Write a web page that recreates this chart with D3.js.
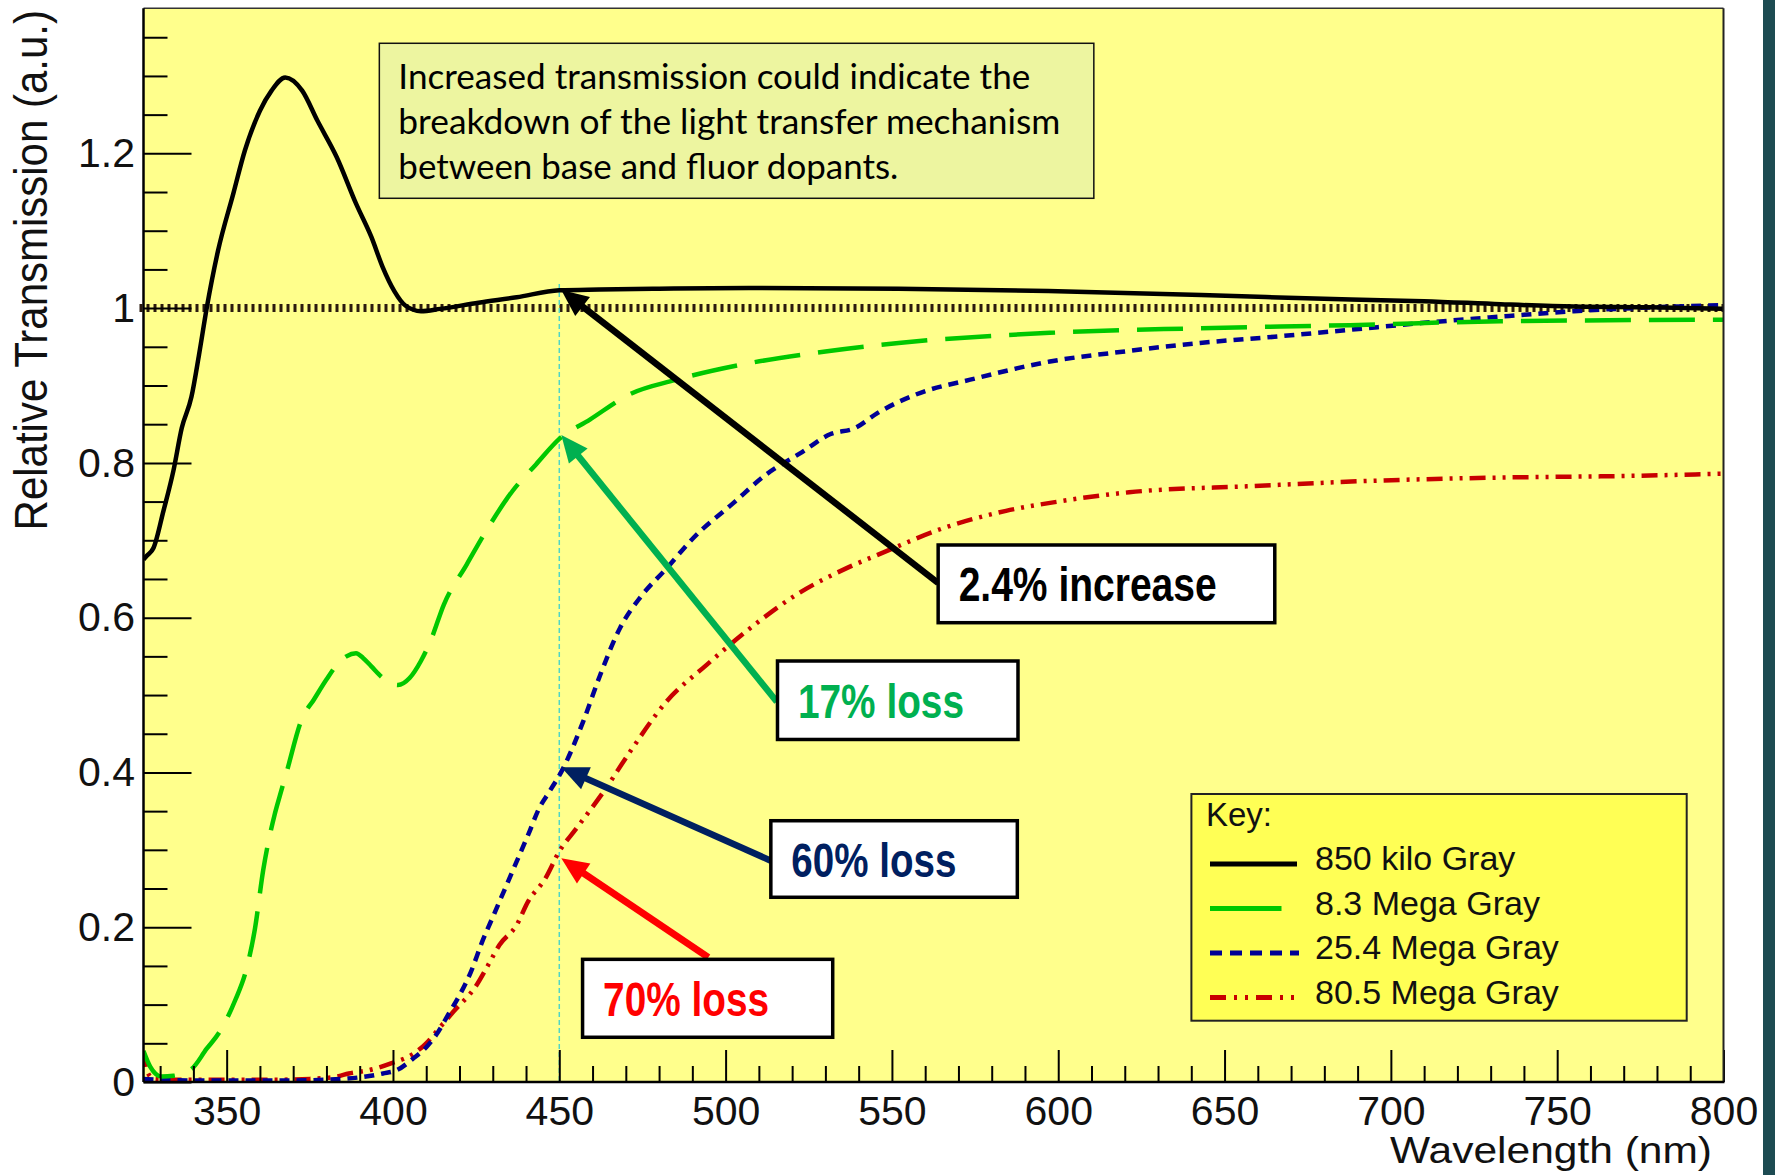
<!DOCTYPE html>
<html><head><meta charset="utf-8">
<script src="https://cdn.jsdelivr.net/npm/d3@7"></script>
<style>html,body{margin:0;padding:0;background:#fff;} svg{display:block}</style>
</head><body>
<svg id="chart" width="1775" height="1175"></svg>
<script>
// ---------------- DATA ----------------
const xTicksMajor = [350, 400, 450, 500, 550, 600, 650, 700, 750, 800];
const xTickLabels = ["350", "400", "450", "500", "550", "600", "650", "700", "750", "800"];
const yTicksMajor = [0, 0.2, 0.4, 0.6, 0.8, 1, 1.2];
const yTickLabels = ["0", "0.2", "0.4", "0.6", "0.8", "1", "1.2"];
const seriesNames = ["850 kilo Gray", "8.3 Mega Gray", "25.4 Mega Gray", "80.5 Mega Gray"];

const wl850k = [325, 326, 328, 331, 334, 336.5, 339.4, 341.7, 344, 347.4, 352, 355.5, 360, 363.5, 367.6, 372.7, 377.3, 383.1, 388.9, 393.5, 396.9, 400.4, 403.8, 408.4, 414.2, 425.7, 437.2, 450, 462, 480, 507, 552, 597, 643, 688, 710, 733, 755, 778, 800];
const tr850k = [0.675, 0.68, 0.69, 0.738, 0.79, 0.845, 0.885, 0.94, 1.0, 1.074, 1.148, 1.204, 1.255, 1.281, 1.298, 1.281, 1.242, 1.195, 1.135, 1.092, 1.053, 1.022, 1.003, 0.996, 0.999, 1.007, 1.014, 1.023, 1.024, 1.025, 1.026, 1.025, 1.022, 1.017, 1.011, 1.009, 1.005, 1.002, 1.001, 0.999];

const wl8M = [325, 327, 330.5, 334, 339.5, 344, 347.6, 352.5, 356, 358.5, 361, 364.4, 366, 368, 372.7, 376.2, 380, 383.1, 386, 388.9, 391, 393.5, 397, 401.5, 405, 408.4, 411.3, 415.3, 422.2, 428, 436, 443, 450, 459.2, 471.3, 484.8, 507.3, 530, 552, 597.5, 642.6, 687.7, 732.8, 800];
const tr8M = [0.04, 0.02, 0.007, 0.008, 0.017, 0.043, 0.063, 0.105, 0.147, 0.198, 0.274, 0.345, 0.37, 0.40, 0.470, 0.494, 0.52, 0.539, 0.55, 0.554, 0.548, 0.537, 0.522, 0.513, 0.522, 0.544, 0.570, 0.617, 0.669, 0.712, 0.764, 0.798, 0.831, 0.856, 0.889, 0.907, 0.929, 0.944, 0.955, 0.968, 0.974, 0.978, 0.983, 0.985];

const wl25M = [325, 330, 340, 350, 360, 370, 380, 390, 397, 401, 406, 410, 413, 417, 420, 423.4, 426.8, 430.3, 433.7, 437.2, 440.6, 444.1, 447, 451, 457.2, 462.3, 468.3, 474.3, 482.3, 490.3, 502.3, 511.9, 523, 531.4, 538.9, 545.5, 557, 575, 597.5, 620, 642.6, 665, 687.7, 710, 732.8, 755, 800];
const tr25M = [0.004, 0.003, 0.002, 0.002, 0.002, 0.002, 0.003, 0.006, 0.011, 0.015, 0.030, 0.045, 0.061, 0.09, 0.112, 0.142, 0.181, 0.216, 0.250, 0.285, 0.319, 0.355, 0.375, 0.404, 0.466, 0.526, 0.587, 0.626, 0.664, 0.703, 0.748, 0.784, 0.814, 0.837, 0.845, 0.864, 0.888, 0.909, 0.931, 0.944, 0.955, 0.963, 0.972, 0.981, 0.989, 0.996, 1.004];

const wl80M = [325, 326, 328, 335, 345, 355, 365, 375, 383, 386.7, 392.5, 399.4, 406.3, 410, 413, 418.2, 425.1, 428.6, 432, 437.2, 440.6, 445.8, 450, 455.2, 463.3, 471.3, 482.3, 494.3, 506.4, 521.4, 536.4, 547.3, 565, 584.3, 600, 621.3, 658.3, 695.3, 732.3, 769.4, 800];
const tr80M = [0.04, 0.015, 0.004, 0.003, 0.003, 0.003, 0.003, 0.004, 0.007, 0.011, 0.015, 0.024, 0.037, 0.05, 0.065, 0.091, 0.125, 0.151, 0.177, 0.203, 0.233, 0.263, 0.298, 0.328, 0.375, 0.427, 0.492, 0.539, 0.583, 0.630, 0.664, 0.684, 0.715, 0.738, 0.75, 0.762, 0.770, 0.777, 0.781, 0.783, 0.786];

const noteLines = ["Increased transmission could indicate the", "breakdown of the light transfer mechanism", "between base and fluor dopants."];
const calloutTexts = ["2.4% increase", "17% loss", "60% loss", "70% loss"];
const calloutWl = [450, 450, 450, 450];
const calloutValues = [1.0234, 0.836, 0.4066, 0.289];

// ---------------- LAYOUT / STYLE ----------------
const W = 1775, H = 1175;
const svg = d3.select("#chart");
const x = d3.scaleLinear().domain([325, 800]).range([143.5, 1723.5]);
const y = d3.scaleLinear().domain([0, 1.3874]).range([1082, 8.3]);
const pL = x(325), pR = x(800), pT = y(1.3874), pB = y(0);
const FONT = "'Liberation Sans', Arial, sans-serif";

svg.append("rect").attr("width", W).attr("height", H).attr("fill", "#fff");
svg.append("rect").attr("x", 1763).attr("y", 0).attr("width", 12).attr("height", H).attr("fill", "#1d4b52");
svg.append("rect").attr("x", pL).attr("y", pT).attr("width", pR - pL).attr("height", pB - pT).attr("fill", "#ffff8c");

svg.append("defs").append("clipPath").attr("id", "clip")
  .append("rect").attr("x", pL).attr("y", pT).attr("width", pR - pL).attr("height", pB - pT);

// reference line at 1
svg.append("line").attr("x1", pL - 4).attr("x2", pR).attr("y1", y(1)).attr("y2", y(1))
  .attr("stroke", "#2b1a0e").attr("stroke-width", 8).attr("stroke-dasharray", "3,4");

// vertical marker at 450
svg.append("line").attr("x1", x(450)).attr("x2", x(450)).attr("y1", y(1.031)).attr("y2", pB)
  .attr("stroke", "#4fd6c8").attr("stroke-width", 1.5).attr("stroke-dasharray", "5,3");

const series = [
  {wl: wl850k, tr: tr850k, color: "#000000", width: 4.5, dash: null},
  {wl: wl8M, tr: tr8M, color: "#00c800", width: 4.5, dash: "46,18"},
  {wl: wl25M, tr: tr25M, color: "#000096", width: 4.5, dash: "10,7"},
  {wl: wl80M, tr: tr80M, color: "#c80000", width: 4.5, dash: "16,7,3,7,3,7"}
];
const line = d3.line().x(d => x(d[0])).y(d => y(d[1])).curve(d3.curveMonotoneX);
const gCurves = svg.append("g").attr("clip-path", "url(#clip)");
[3, 2, 1, 0].forEach(i => {
  const s = series[i];
  gCurves.append("path").datum(s.wl.map((w, k) => [w, s.tr[k]]))
    .attr("d", line).attr("fill", "none").attr("stroke", s.color)
    .attr("stroke-width", s.width).attr("stroke-linejoin", "round")
    .attr("stroke-dasharray", s.dash);
});

// axes
const xMinor = d3.range(33, 81).map(v => v * 10).filter(v => v % 50 !== 0);
const yMinor = d3.range(1, 28).filter(i => i % 4 !== 0).map(i => i * 0.05);
function styleAxis(g) {
  g.select(".domain").remove();
  g.selectAll(".tick line").attr("stroke", "#000").attr("stroke-width", 2);
  g.selectAll("text").attr("font-family", FONT).attr("font-size", 41).attr("fill", "#111");
}
svg.append("g").attr("transform", `translate(0,${pB})`)
  .call(d3.axisBottom(x).tickValues(xMinor).tickSize(-16).tickFormat("")).call(styleAxis);
svg.append("g").attr("transform", `translate(0,${pB})`)
  .call(d3.axisBottom(x).tickValues(xTicksMajor).tickSize(-32).tickPadding(14).tickFormat((d, i) => xTickLabels[i])).call(styleAxis);
svg.append("g").attr("transform", `translate(${pL},0)`)
  .call(d3.axisLeft(y).tickValues(yMinor).tickSize(-24).tickFormat("")).call(styleAxis);
svg.append("g").attr("transform", `translate(${pL},0)`)
  .call(d3.axisLeft(y).tickValues(yTicksMajor).tickSize(-48).tickPadding(8.5).tickFormat((d, i) => yTickLabels[i])).call(styleAxis);

// frame
svg.append("line").attr("x1", pL).attr("x2", pR).attr("y1", pT).attr("y2", pT).attr("stroke", "#333").attr("stroke-width", 1.5);
svg.append("line").attr("x1", pR).attr("x2", pR).attr("y1", pT).attr("y2", pB).attr("stroke", "#222").attr("stroke-width", 2);
svg.append("line").attr("x1", pL).attr("x2", pL).attr("y1", pT).attr("y2", pB).attr("stroke", "#000").attr("stroke-width", 2.5);
svg.append("line").attr("x1", pL).attr("x2", pR + 1).attr("y1", pB).attr("y2", pB).attr("stroke", "#000").attr("stroke-width", 2.5);

// titles
svg.append("text").attr("transform", "translate(47,10) rotate(-90) scale(1,1.08)")
  .attr("text-anchor", "end").attr("font-family", FONT).attr("font-size", 42).attr("fill", "#111")
  .text("Relative Transmission (a.u.)");
svg.append("text").attr("x", 1390).attr("y", 1163)
  .attr("font-family", FONT).attr("font-size", 37).attr("fill", "#111")
  .attr("textLength", 322).attr("lengthAdjust", "spacingAndGlyphs")
  .text("Wavelength (nm)");

// note box
const note = {x0: 395.9, x1: 610.7, v0: 1.3422, v1: 1.1419};
svg.append("rect").attr("x", x(note.x0)).attr("y", y(note.v0))
  .attr("width", x(note.x1) - x(note.x0)).attr("height", y(note.v1) - y(note.v0))
  .attr("fill", "#edf5a0").attr("stroke", "#111").attr("stroke-width", 1.5);
const noteWidths = [632, 662, 500];
noteLines.forEach((t, i) => {
  svg.append("text").attr("x", x(note.x0) + 19).attr("y", y(note.v0) + 46 + i * 45)
    .attr("font-family", "Lato, 'Open Sans', sans-serif").attr("font-size", 34).attr("fill", "#000")
    .attr("textLength", noteWidths[i]).attr("lengthAdjust", "spacingAndGlyphs").text(t);
});

// callouts
const callouts = [
  {tailWl: 563.9, tailV: 0.6448, box: [563.9, 665.1, 0.6939, 0.5935], color: "#000000", text: "#000000", tw: 258, lw: 6.5},
  {tailWl: 515.4, tailV: 0.4914, box: [515.6, 587.9, 0.544, 0.4426], color: "#00b050", text: "#00b050", tw: 166, lw: 6.5},
  {tailWl: 513.6, tailV: 0.286, box: [513.6, 587.7, 0.3376, 0.2387], color: "#002060", text: "#002060", tw: 165, lw: 6.5},
  {tailWl: 494.8, tailV: 0.161, box: [457.0, 532.2, 0.1585, 0.0578], color: "#ff0000", text: "#ff0000", tw: 166, lw: 7}
];
callouts.forEach((c, i) => {
  const tx = x(calloutWl[i]) + 2, ty = y(calloutValues[i]);
  const sx = x(c.tailWl), sy = y(c.tailV);
  const ang = Math.atan2(ty - sy, tx - sx);
  const hl = 27, hw = 12;
  const bx = tx - hl * Math.cos(ang), by = ty - hl * Math.sin(ang);
  svg.append("line").attr("x1", sx).attr("y1", sy).attr("x2", bx + 4 * Math.cos(ang)).attr("y2", by + 4 * Math.sin(ang))
    .attr("stroke", c.color).attr("stroke-width", c.lw);
  const px = -Math.sin(ang), py = Math.cos(ang);
  svg.append("polygon").attr("points", [[tx, ty], [bx + hw * px, by + hw * py], [bx - hw * px, by - hw * py]].map(p => p.join(",")).join(" "))
    .attr("fill", c.color);
  const bx0 = x(c.box[0]), bx1 = x(c.box[1]), by0 = y(c.box[2]), by1 = y(c.box[3]);
  svg.append("rect").attr("x", bx0).attr("y", by0).attr("width", bx1 - bx0).attr("height", by1 - by0)
    .attr("fill", "#fff").attr("stroke", "#000").attr("stroke-width", 3.5);
  svg.append("text").attr("x", bx0 + 20.5).attr("y", by0 + 56.5)
    .attr("font-family", "'Liberation Sans Narrow', 'Liberation Sans', Arial, sans-serif").attr("font-weight", "bold")
    .attr("font-size", 48).attr("fill", c.text)
    .attr("textLength", c.tw).attr("lengthAdjust", "spacingAndGlyphs").text(calloutTexts[i]);
});

// legend
const lg = svg.append("g");
lg.append("rect").attr("x", 1191.4).attr("y", 794).attr("width", 495.3).attr("height", 226.7)
  .attr("fill", "#ffff55").attr("stroke", "#222").attr("stroke-width", 2);
lg.append("text").attr("x", 1206).attr("y", 826).attr("font-family", FONT).attr("font-size", 33).attr("fill", "#111").text("Key:");
const legendSamples = [
  {color: "#000000", dash: null, x2: 1297, w: 5},
  {color: "#00c800", dash: null, x2: 1281.5, w: 5},
  {color: "#000096", dash: "12,8", x2: 1299, w: 5},
  {color: "#c80000", dash: "16,8,3,8,3,8", x2: 1299, w: 5}
];
seriesNames.forEach((n, i) => {
  const cy = 864 + i * 44.5;
  lg.append("line").attr("x1", 1210).attr("x2", legendSamples[i].x2).attr("y1", cy).attr("y2", cy)
    .attr("stroke", legendSamples[i].color).attr("stroke-width", legendSamples[i].w)
    .attr("stroke-dasharray", legendSamples[i].dash);
  lg.append("text").attr("x", 1315).attr("y", cy + 6).attr("font-family", FONT)
    .attr("font-size", 34).attr("fill", "#111").text(n);
});
</script>
</body></html>
